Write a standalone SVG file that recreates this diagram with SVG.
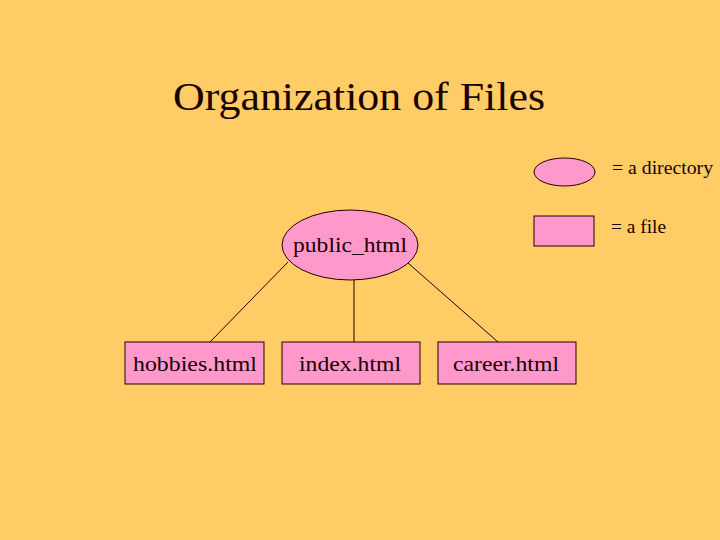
<svg xmlns="http://www.w3.org/2000/svg" width="720" height="540" viewBox="0 0 720 540">
<style>
.n{fill:#FF99CC;stroke:#220000;stroke-width:1}
.t{font-family:'Liberation Serif','Times New Roman',Times,'DejaVu Serif',serif;fill:#1a0000}
.l{stroke:#220000;stroke-width:1;fill:none}
</style>
<rect width="720" height="540" fill="#FFCC66"/>
<text class="t" x="173" y="110" font-size="40" textLength="372" lengthAdjust="spacingAndGlyphs">Organization of Files</text>
<g id="legend">
<ellipse class="n" cx="564.5" cy="172" rx="30.5" ry="14"/>
<text class="t" x="612" y="174" font-size="18" textLength="101" lengthAdjust="spacingAndGlyphs">= a directory</text>
<rect class="n" x="534" y="216" width="60" height="30"/>
<text class="t" x="611" y="233" font-size="18" textLength="55" lengthAdjust="spacingAndGlyphs">= a file</text>
</g>
<g id="connectors">
<line class="l" x1="288" y1="262" x2="210" y2="342"/>
<line class="l" x1="354" y1="280" x2="354" y2="342"/>
<line class="l" x1="408" y1="263" x2="498" y2="342"/>
</g>
<g id="public_html">
<ellipse class="n" cx="350" cy="245" rx="68" ry="35"/>
<text class="t" x="293" y="252" font-size="22" textLength="114" lengthAdjust="spacingAndGlyphs">public_html</text>
</g>
<g id="hobbies">
<rect class="n" x="125" y="342" width="139" height="42"/>
<text class="t" x="133" y="371" font-size="22" textLength="124" lengthAdjust="spacingAndGlyphs">hobbies.html</text>
</g>
<g id="index">
<rect class="n" x="282" y="342" width="138" height="42"/>
<text class="t" x="299" y="371" font-size="22" textLength="102" lengthAdjust="spacingAndGlyphs">index.html</text>
</g>
<g id="career">
<rect class="n" x="438" y="342" width="138" height="42"/>
<text class="t" x="453" y="371" font-size="22" textLength="106" lengthAdjust="spacingAndGlyphs">career.html</text>
</g>
</svg>
